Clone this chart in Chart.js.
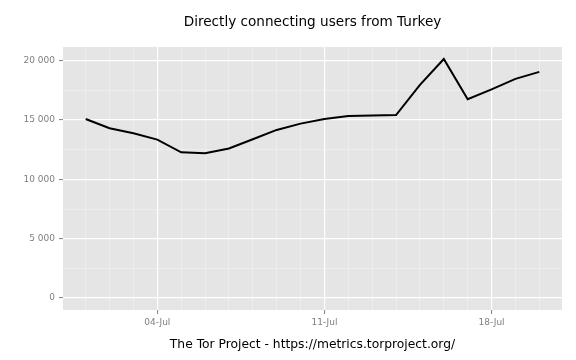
<!DOCTYPE html>
<html>
<head>
<meta charset="utf-8">
<script src="https://cdn.jsdelivr.net/npm/chart.js@4"></script>
<style>
  html, body { margin: 0; padding: 0; background: #fff; }
  #wrap { width: 576px; height: 360px; }
</style>
</head>
<body>
<div id="wrap"><canvas id="chart" width="576" height="360"></canvas></div>
<script>
// ─── DATA ─────────────────────────────────────────────────
const days = [1, 2, 3, 4, 5, 6, 7, 8, 9, 10, 11, 12, 13, 14, 15, 16, 17, 18, 19, 20];
const users = [15090, 14310, 13890, 13350, 12280, 12200, 12600, 13380, 14170, 14700,
               15090, 15350, 15380, 15420, 17960, 20150, 16750, 17590, 18470, 19060];
const xMajorDays = [4, 11, 18];
const xMajorLabels = ['04-Jul', '11-Jul', '18-Jul'];
const yTicks = [0, 2500, 5000, 7500, 10000, 12500, 15000, 17500, 20000];
const titleText = 'Directly connecting users from Turkey';
const captionText = 'The Tor Project - https://metrics.torproject.org/';

const FONT = 'DejaVu Sans';
const GREY = '#7F7F7F';

function fmt(v) {
    return String(v).replace(/\B(?=(\d{3})+(?!\d))/g, ' ');
}

const panelBg = {
    id: 'panelBg',
    beforeDraw(chart) {
        const a = chart.chartArea, ctx = chart.ctx;
        ctx.save();
        ctx.fillStyle = '#E5E5E5';
        ctx.fillRect(a.left, a.top, a.right - a.left, a.bottom - a.top);
        ctx.restore();
    }
};

const plotTitle = {
    id: 'plotTitle',
    afterDraw(chart) {
        const a = chart.chartArea, ctx = chart.ctx;
        ctx.save();
        ctx.fillStyle = '#000';
        ctx.font = '13.6px "' + FONT + '"';
        ctx.textAlign = 'center';
        ctx.textBaseline = 'middle';
        ctx.fillText(titleText, (a.left + a.right) / 2, 22.5);
        ctx.restore();
    }
};

new Chart(document.getElementById('chart'), {
    type: 'line',
    data: {
        datasets: [{
            data: days.map((d, i) => ({ x: d, y: users[i] })),
            borderColor: '#000',
            borderWidth: 2,
            pointRadius: 0,
            tension: 0,
            fill: false,
        }]
    },
    options: {
        responsive: false,
        animation: false,
        layout: { padding: { left: 0, right: 14, top: 47, bottom: 8 } },
        plugins: { legend: { display: false }, tooltip: { enabled: false } },
        scales: {
            x: {
                type: 'linear',
                min: days[0] - 0.95,
                max: days[days.length - 1] + 0.95,
                afterBuildTicks: s => { s.ticks = days.map(v => ({ value: v })); },
                afterFit: s => { s.height = 42; },
                border: { display: false },
                grid: {
                    color: c => xMajorDays.includes(c.tick.value) ? '#FFFFFF' : '#F2F2F2',
                    lineWidth: c => xMajorDays.includes(c.tick.value) ? 1.2 : 0.6,
                    tickColor: c => xMajorDays.includes(c.tick.value) ? GREY : 'rgba(0,0,0,0)',
                    tickLength: 4,
                    tickWidth: 1,
                },
                ticks: {
                    autoSkip: false,
                    maxRotation: 0,
                    padding: 3,
                    color: GREY,
                    font: { family: FONT, size: 9 },
                    callback: v => {
                        const k = xMajorDays.indexOf(v);
                        return k >= 0 ? xMajorLabels[k] : '';
                    }
                },
                title: {
                    display: true,
                    text: captionText,
                    color: '#000',
                    font: { family: FONT, size: 12.3 },
                    padding: { top: 0, bottom: 0 }
                }
            },
            y: {
                min: -1007,
                max: 21157,
                afterBuildTicks: s => { s.ticks = yTicks.map(v => ({ value: v })); },
                afterFit: s => { s.width = 63; },
                border: { display: false },
                grid: {
                    color: c => c.tick.value % 5000 === 0 ? '#FFFFFF' : '#F2F2F2',
                    lineWidth: c => c.tick.value % 5000 === 0 ? 1.2 : 0.6,
                    tickColor: c => c.tick.value % 5000 === 0 ? GREY : 'rgba(0,0,0,0)',
                    tickLength: 4,
                    tickWidth: 1,
                },
                ticks: {
                    padding: 4,
                    color: GREY,
                    font: { family: FONT, size: 9 },
                    callback: v => v % 5000 === 0 ? fmt(v) : ''
                }
            }
        }
    },
    plugins: [panelBg, plotTitle]
});
</script>
</body>
</html>
